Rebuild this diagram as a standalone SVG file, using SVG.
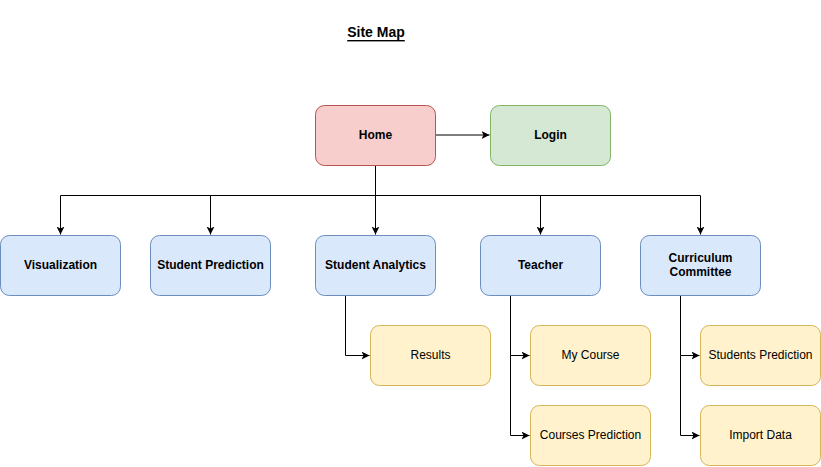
<svg xmlns="http://www.w3.org/2000/svg" width="821" height="467" viewBox="0 0 821 467">
<style>
text{font-family:"Liberation Sans",Arial,Helvetica,sans-serif;font-size:12px;fill:#000;text-anchor:middle;dominant-baseline:central}
.b{font-weight:bold}
.red{fill:#f8cecc;stroke:#b85450}
.green{fill:#d5e8d4;stroke:#82b366}
.blue{fill:#dae8fc;stroke:#6c8ebf}
.yellow{fill:#fff2cc;stroke:#d6b656}
#connectors path{fill:none;stroke:#000;stroke-width:1;marker-end:url(#arr)}
#connectors path.nm{marker-end:none}
</style>
<defs>
<marker id="arr" viewBox="0 0 10 10" refX="10" refY="5" markerWidth="8" markerHeight="8" markerUnits="userSpaceOnUse" orient="auto">
<path d="M0,0 L10,5 L0,10 L2.5,5 Z" fill="#000"/>
</marker>
</defs>
<rect width="821" height="467" fill="#fff"/>
<text x="376" y="32" class="b" style="font-size:14px;text-decoration:underline">Site Map</text>
<g id="connectors">
<path d="M435.5,135 L489.5,135"/>
<path class="nm" d="M375.5,165 L375.5,195.5"/>
<path class="nm" d="M60.5,195.5 L700.5,195.5"/>
<path d="M60.5,195.5 L60.5,234.5"/>
<path d="M210.5,195.5 L210.5,234.5"/>
<path d="M375.5,195.5 L375.5,234.5"/>
<path d="M540.5,195.5 L540.5,234.5"/>
<path d="M700.5,195.5 L700.5,234.5"/>
<path d="M345.5,295 L345.5,355.5 L369.5,355.5"/>
<path d="M510.5,295 L510.5,355.5 L529.5,355.5"/>
<path d="M510.5,355.5 L510.5,435.5 L529.5,435.5"/>
<path d="M680.5,295 L680.5,355.5 L699.5,355.5"/>
<path d="M680.5,355.5 L680.5,435.5 L699.5,435.5"/>
</g>
<g id="home"><rect class="red" x="315.5" y="105.5" width="120" height="60" rx="9"/><text x="375.5" y="134.5" class="b">Home</text></g>
<g id="login"><rect class="green" x="490.5" y="105.5" width="120" height="60" rx="9"/><text x="550.5" y="134.5" class="b">Login</text></g>
<g id="visualization"><rect class="blue" x="0.5" y="235.5" width="120" height="60" rx="9"/><text x="60.5" y="264.5" class="b">Visualization</text></g>
<g id="student-prediction"><rect class="blue" x="150.5" y="235.5" width="120" height="60" rx="9"/><text x="210.5" y="264.5" class="b">Student Prediction</text></g>
<g id="student-analytics"><rect class="blue" x="315.5" y="235.5" width="120" height="60" rx="9"/><text x="375.5" y="264.5" class="b">Student Analytics</text></g>
<g id="teacher"><rect class="blue" x="480.5" y="235.5" width="120" height="60" rx="9"/><text x="540.5" y="264.5" class="b">Teacher</text></g>
<g id="curriculum-committee"><rect class="blue" x="640.5" y="235.5" width="120" height="60" rx="9"/><text x="700.5" y="257.5" class="b">Curriculum</text><text x="700.5" y="271.5" class="b">Committee</text></g>
<g id="results"><rect class="yellow" x="370.5" y="325.5" width="120" height="60" rx="9"/><text x="430.5" y="354.5">Results</text></g>
<g id="my-course"><rect class="yellow" x="530.5" y="325.5" width="120" height="60" rx="9"/><text x="590.5" y="354.5">My Course</text></g>
<g id="courses-prediction"><rect class="yellow" x="530.5" y="405.5" width="120" height="60" rx="9"/><text x="590.5" y="434.5">Courses Prediction</text></g>
<g id="students-prediction"><rect class="yellow" x="700.5" y="325.5" width="120" height="60" rx="9"/><text x="760.5" y="354.5">Students Prediction</text></g>
<g id="import-data"><rect class="yellow" x="700.5" y="405.5" width="120" height="60" rx="9"/><text x="760.5" y="434.5">Import Data</text></g>
</svg>
